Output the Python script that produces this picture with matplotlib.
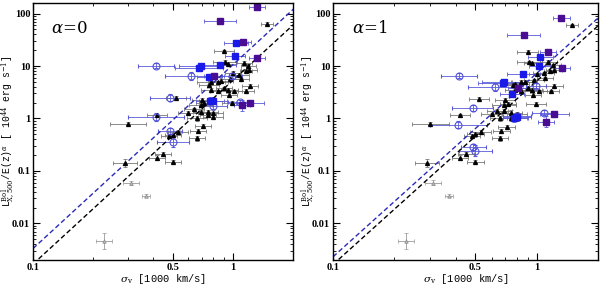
import numpy as np
import matplotlib
matplotlib.use("Agg")
from matplotlib import pyplot as plt
from matplotlib.ticker import FixedLocator, NullFormatter

plt.rcParams['mathtext.fontset'] = 'dejavuserif'

# black triangles: sigma_v, L (alpha=0), L (alpha=1), x err (dex), y err (dex)
blk_x = [1.49, 0.90, 0.92, 0.95, 1.14, 1.20, 1.16, 1.21, 1.08, 1.10, 1.00, 0.97, 0.87, 0.84, 0.78, 0.76,
         0.78, 0.84, 0.90, 0.95, 1.02, 1.22, 1.17, 0.96, 0.52, 0.70, 0.72, 0.69, 0.64, 0.60, 0.69, 0.75,
         0.80, 0.75, 0.80, 0.66, 0.42, 0.30, 0.71, 0.67, 0.53, 0.48, 0.50, 0.66, 0.29, 0.42, 0.45, 0.50, 0.99]
blk_y0 = [63.6, 19, 12.2, 11, 11.5, 10, 8.1, 8.5, 6.8, 5.6, 7.5, 5.7, 5.2, 4.9, 4.9, 4.3,
          3.5, 3.3, 3.8, 3.5, 3.3, 4.2, 3.4, 2.8, 2.5, 2.3, 2.0, 1.8, 1.5, 1.3, 1.35, 1.35,
          1.3, 1.15, 1.05, 1.0, 1.15, 0.8, 0.72, 0.58, 0.56, 0.47, 0.48, 0.42, 0.14, 0.18, 0.21, 0.15, 2.0]
blk_y1 = [60, 18.7, 11.7, 11.2, 12, 10.4, 8.0, 8.4, 7.3, 5.8, 7.0, 5.4, 5.0, 5.0, 4.6, 4.3,
          3.5, 3.3, 3.8, 3.5, 3.3, 4.2, 3.3, 2.8, 2.4, 2.3, 1.9, 1.8, 1.4, 1.2, 1.4, 1.3,
          1.2, 1.0, 1.0, 1.0, 1.15, 0.8, 0.7, 0.57, 0.55, 0.46, 0.5, 0.42, 0.14, 0.18, 0.21, 0.15, 1.9]
blk_ex = [0.03, 0.05, 0.06, 0.04, 0.04, 0.04, 0.03, 0.04, 0.05, 0.04, 0.04, 0.05, 0.06, 0.05, 0.07, 0.05,
          0.05, 0.04, 0.04, 0.05, 0.04, 0.04, 0.04, 0.04, 0.05, 0.05, 0.04, 0.06, 0.05, 0.05, 0.04, 0.05,
          0.05, 0.04, 0.05, 0.05, 0.05, 0.09, 0.04, 0.04, 0.05, 0.04, 0.04, 0.04, 0.06, 0.04, 0.04, 0.04, 0.05]
blk_ey = [0.03, 0.03, 0.03, 0.03, 0.03, 0.03, 0.03, 0.03, 0.03, 0.03, 0.03, 0.03, 0.03, 0.03, 0.03, 0.03,
          0.03, 0.03, 0.03, 0.03, 0.03, 0.03, 0.03, 0.03, 0.03, 0.03, 0.03, 0.03, 0.03, 0.03, 0.03, 0.04,
          0.04, 0.04, 0.04, 0.04, 0.03, 0.03, 0.04, 0.04, 0.04, 0.04, 0.05, 0.05, 0.08, 0.04, 0.04, 0.03, 0.03]

# grey low-luminosity systems
gry_x = [0.31, 0.37, 0.228]
gry_y0 = [0.059, 0.034, 0.0046]
gry_y1 = [0.060, 0.034, 0.0046]
gry_ex = [0.04, 0.02, 0.04]
gry_ey = [0.04, 0.03, 0.15]

# blue open circles
opn_x = [0.415, 0.62, 0.484, 0.412, 0.488, 0.50, 0.80, 1.09, 0.99]
opn_y0 = [10.2, 6.5, 2.5, 1.07, 0.57, 0.36, 1.75, 2.05, 6.6]
opn_y1 = [6.6, 4.0, 1.6, 0.76, 0.29, 0.245, 1.1, 1.3, 4.2]
opn_ex = [0.09, 0.13, 0.10, 0.14, 0.06, 0.08, 0.07, 0.06, 0.05]
opn_ey = [0.05, 0.08, 0.06, 0.07, 0.06, 0.10, 0.07, 0.05, 0.05]

# blue filled squares
sqb_x = [1.04, 1.03, 0.86, 0.69, 0.68, 0.757, 0.77, 0.80]
sqb_y0 = [27, 15.4, 10.6, 10, 9, 6.2, 2.2, 2.2]
sqb_y1 = [15, 10, 7, 5, 4.7, 2.9, 1.0, 1.05]
sqb_ex = [0.06, 0.05, 0.08, 0.11, 0.12, 0.06, 0.07, 0.07]
sqb_ey = [0.03, 0.03, 0.04, 0.04, 0.05, 0.05, 0.06, 0.06]

# purple filled squares
sqp_x = [1.32, 0.863, 1.13, 1.33, 0.81, 1.22, 1.11]
sqp_y0 = [136, 73.7, 28.5, 14.1, 6.5, 2.0, 1.78]
sqp_y1 = [84, 39, 18.2, 9, 3.75, 1.22, 0.87]
sqp_ex = [0.04, 0.08, 0.04, 0.04, 0.05, 0.07, 0.04]
sqp_ey = [0.02, 0.02, 0.03, 0.03, 0.04, 0.05, 0.10]

# fitted relations  L = A * sigma^B
fit_B = 3.5
fit_blk = [5.3, 5.2]
fit_blu = [10.5, 7.3]

C_PUR = '#4a0c92'
C_BLU = '#1a1ae8'
C_OPN = '#5050dc'
C_ERR = '#5a5ad8'


def dex_err(v, d):
    v = np.asarray(v, float)
    d = np.asarray(d, float)
    return np.vstack([v * (1 - 10 ** -d), v * (10 ** d - 1)])


def panel(ax, ys, k, label):
    y_blk, y_gry, y_opn, y_sqb, y_sqp = ys
    kw = dict(capsize=1.3, elinewidth=0.6, capthick=0.6, linestyle='none')
    ax.errorbar(gry_x, y_gry, xerr=dex_err(gry_x, gry_ex), yerr=dex_err(y_gry, gry_ey),
                fmt='^', ms=2.5, mfc='#bbbbbb', mec='#888888', mew=0.5, ecolor='#999999', **kw)
    ax.errorbar(blk_x, y_blk, xerr=dex_err(blk_x, blk_ex), yerr=dex_err(y_blk, blk_ey),
                fmt='^', ms=2.8, color='black', ecolor='#777777', **kw)
    ax.errorbar(opn_x, y_opn, xerr=dex_err(opn_x, opn_ex), yerr=dex_err(y_opn, opn_ey),
                fmt='o', ms=5, mfc='none', mec=C_OPN, mew=0.8, ecolor=C_ERR, **kw)
    ax.errorbar(sqb_x, y_sqb, xerr=dex_err(sqb_x, sqb_ex), yerr=dex_err(y_sqb, sqb_ey),
                fmt='s', ms=4, color=C_BLU, ecolor=C_ERR, **kw)
    ax.errorbar(sqp_x, y_sqp, xerr=dex_err(sqp_x, sqp_ex), yerr=dex_err(y_sqp, sqp_ey),
                fmt='s', ms=4, color=C_PUR, ecolor=C_ERR, **kw)

    xx = np.logspace(-1, np.log10(2.1), 50)
    ax.plot(xx, fit_blu[k] * xx ** fit_B, ls=(0, (3.5, 2)), color='#2a2ab8', lw=1.0)
    ax.plot(xx, fit_blk[k] * xx ** fit_B, ls=(0, (3.5, 2)), color='black', lw=1.0)

    ax.set_xscale('log')
    ax.set_yscale('log')
    ax.set_xlim(0.1, 2.0)
    ax.set_ylim(0.002, 160)
    ax.xaxis.set_major_locator(FixedLocator([0.1, 0.5, 1]))
    ax.set_xticklabels(['0.1', '0.5', '1'])
    ax.xaxis.set_minor_locator(FixedLocator([0.2, 0.3, 0.4, 0.6, 0.7, 0.8, 0.9, 2]))
    ax.xaxis.set_minor_formatter(NullFormatter())
    ax.yaxis.set_major_locator(FixedLocator([0.01, 0.1, 1, 10, 100]))
    ax.set_yticklabels(['0.01', '0.1', '1', '10', '100'])
    ax.tick_params(which='both', direction='in', top=True, right=True, labelsize=7.5)
    ax.tick_params(axis='x', pad=2)
    ax.tick_params(axis='y', pad=2)
    ax.tick_params(which='major', length=5, width=0.8)
    ax.tick_params(which='minor', length=2.5, width=0.6)
    for t in ax.get_xticklabels() + ax.get_yticklabels():
        t.set_fontweight('bold')
        t.set_family('Liberation Serif')
    for s in ax.spines.values():
        s.set_linewidth(1.0)
    ax.text(0.07, 0.9, label, transform=ax.transAxes, fontsize=12, va='center', family='DejaVu Serif')
    ax.set_xlabel(r'$\sigma_{\rm v}$ [1000 km/s]', fontsize=7.5, family='Liberation Mono')
    ax.set_ylabel(r'L$^{\rm Bol}_{\rm X,500}$/E(z)$^{\alpha}$ [ 10$^{44}$ erg s$^{-1}$]',
                  fontsize=7.0, family='Liberation Mono')
    ax.xaxis.set_label_coords(0.5, -0.048)
    ax.yaxis.set_label_coords(-0.062, 0.5)


fig = plt.figure(figsize=(6, 2.88), dpi=100)
ax1 = fig.add_axes([0.055, 0.097, 0.433, 0.893])
ax2 = fig.add_axes([0.555, 0.097, 0.442, 0.893])
panel(ax1, (blk_y0, gry_y0, opn_y0, sqb_y0, sqp_y0), 0, r'$\alpha$=0')
panel(ax2, (blk_y1, gry_y1, opn_y1, sqb_y1, sqp_y1), 1, r'$\alpha$=1')
fig.savefig('out.png', dpi=100)
